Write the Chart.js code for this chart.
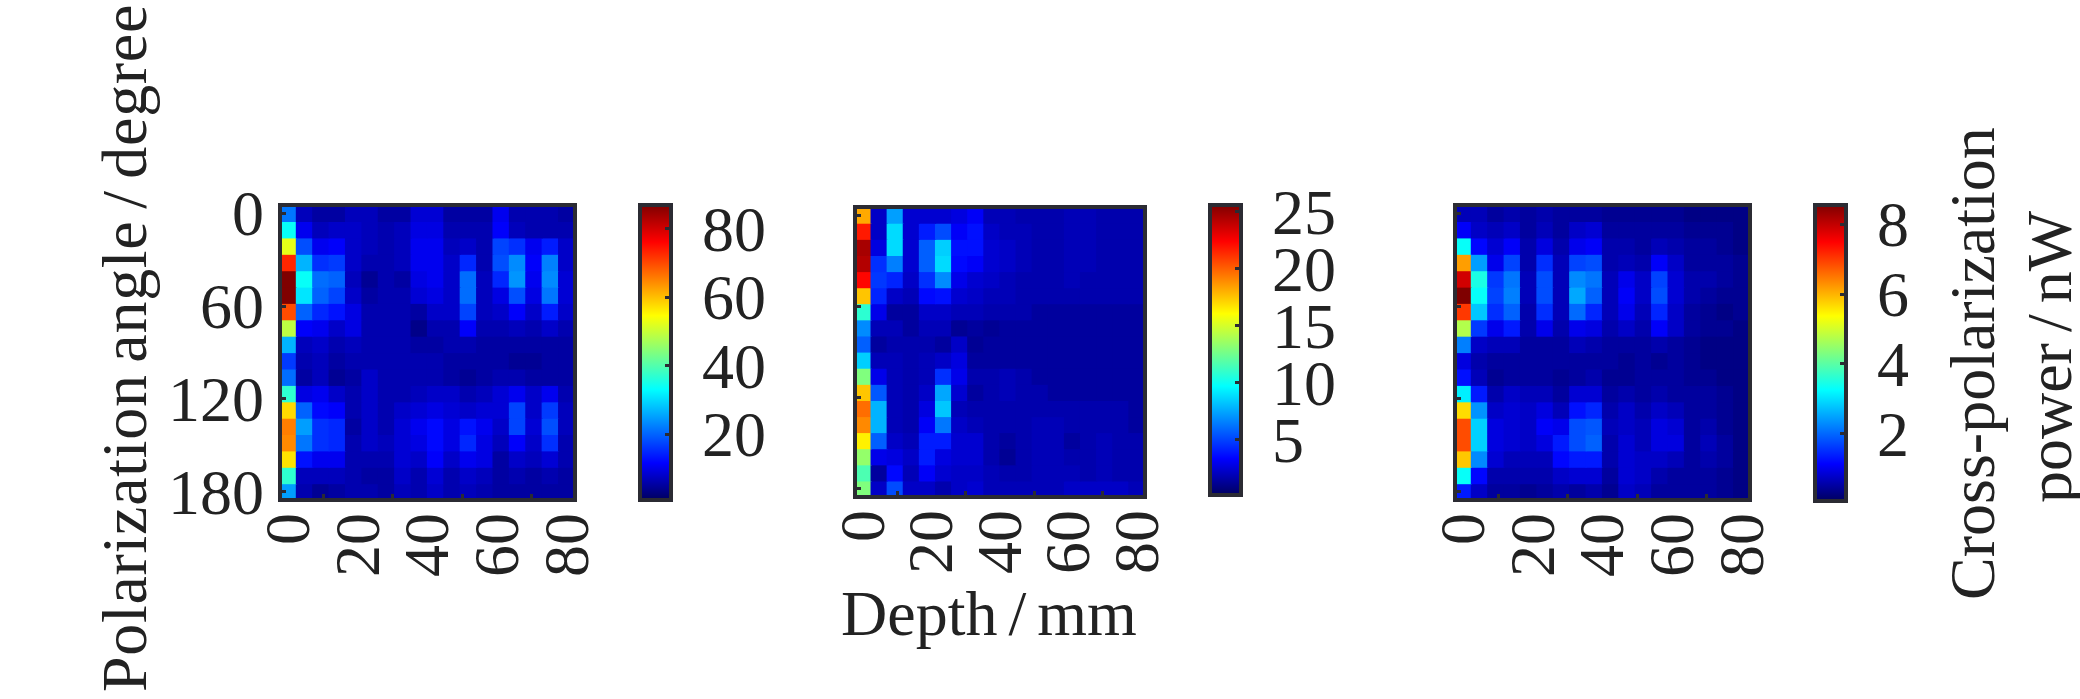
<!DOCTYPE html>
<html lang="en">
<head>
  <meta charset="UTF-8">
  <title>Cross-polarization power maps</title>
  <script src="https://cdn.jsdelivr.net/npm/chart.js"></script>
  <style>
    html, body {
      margin: 0;
      background: #fff;
      overflow: hidden;
    }
    body {
      width: 2080px;
      height: 699px;
      position: relative;
    }
    canvas {
      position: absolute;
    }
    .label {
      position: absolute;
      font-family: "Liberation Serif", serif;
      font-size: 64px;
      line-height: 1;
      color: #222;
      white-space: nowrap;
      word-spacing: -5px;
    }
    .rot {
      transform: rotate(-90deg);
      transform-origin: left top;
    }
  </style>
</head>
<body>
  <canvas id="map1"></canvas>
  <canvas id="bar1"></canvas>
  <canvas id="map2"></canvas>
  <canvas id="bar2"></canvas>
  <canvas id="map3"></canvas>
  <canvas id="bar3"></canvas>

  <div class="label rot" style="left:93px;top:692px;letter-spacing:.7px">Polarization angle / degree</div>
  <div class="label" style="left:841px;top:582px">Depth / mm</div>
  <div class="label rot" style="left:1941px;top:600px">Cross-polarization</div>
  <div class="label rot" style="left:2018px;top:503px">power / nW</div>

  <script>
    const depths = [0, 4.71, 9.41, 14.12, 18.82, 23.53, 28.24, 32.94, 37.65, 42.35, 47.06, 51.76, 56.47, 61.18, 65.88, 70.59, 75.29, 80];
    const angles = [0, 10.6, 21.2, 31.8, 42.4, 52.9, 63.5, 74.1, 84.7, 95.3, 105.9, 116.5, 127.1, 137.6, 148.2, 158.8, 169.4, 180];
    const depthTicks = [0, 20, 40, 60, 80];
    const angleTicks = [0, 60, 120, 180];

    const power1 = [
      [21.6,7,5.3,5.3,7,7,5.3,5.3,8.7,8.7,5.3,5.3,5.3,10.5,6.2,6.2,6.2,5.3],
      [33.7,10.5,7,7.9,7.9,7,6.2,7,9.6,9.6,6.2,6.2,6.2,11.3,7,6.2,6.2,6.2],
      [52.6,18.2,10.5,11.3,7.9,7,6.2,7,10.5,10.5,7,7.9,6.2,17.3,15.6,10.5,13.9,7.9],
      [73,26.8,15.6,16.5,7.9,6.2,6.2,7,10.5,10.5,7.9,14.8,6.2,18.2,23.4,11.3,22.5,7.9],
      [87,33.7,20.8,19.9,7,4.4,6.2,5.3,9.6,10.5,7.9,20.8,7,14.8,24.2,10.5,23.4,8.7],
      [87,31,19.9,17.3,7.9,5.3,6.2,6.2,8.7,9.6,7.9,20.8,7,9.6,18.2,9.6,21.6,8.7],
      [69.8,19.9,14.8,13,9.6,6.2,6.2,6.2,5.3,7.9,7.9,17.3,7,7.9,11.3,7.9,13.9,7.9],
      [49,11.3,10.5,7.9,9.6,6.2,6.2,6.2,3.6,6.2,6.2,11.3,6.2,6.2,7,6.2,7.9,6.2],
      [26.8,7,7.9,6.2,7,6.2,6.2,6.2,5.3,5.3,6.2,6.2,5.3,5.3,5.3,5.3,5.3,5.3],
      [16.5,6.2,7,5.3,6.2,6.2,6.2,6.2,6.2,6.2,5.3,5.3,5.3,5.3,4.4,4.4,5.3,5.3],
      [20.8,5.3,7,4.4,5.3,7.9,6.2,6.2,6.2,6.2,5.3,4.4,5.3,6.2,6.2,5.3,5.3,5.3],
      [37,9.6,10.5,7.9,6.2,7.9,6.2,6.2,7,7.9,7.9,6.2,7,8.7,10.5,7.9,10.5,6.2],
      [57.8,19.9,12.2,11.3,6.2,7.9,6.2,7.9,8.7,9.6,8.7,7.9,8.7,8.7,17.3,7.9,16.5,7],
      [65.5,25,15.6,14.8,5.3,7.9,6.2,8.7,10.5,12.2,9.6,13,10.5,7.9,17.3,8.7,18.2,7],
      [64.6,21.6,15.6,14.8,6.2,7.9,7,8.7,9.6,12.2,9.6,14.8,9.6,7,11.3,7.9,15.6,6.2],
      [57,13,10.5,10.5,6.2,6.2,6.2,8.7,7.9,11.3,7.9,10.5,9.6,5.3,7.9,7,8.7,6.2],
      [37,7,7,7,6.2,5.3,5.3,7.9,6.2,8.7,6.2,7.9,7,5.3,6.2,5.3,6.2,5.3],
      [25,6.2,4.4,5.3,6.2,6.2,5.3,7,6.2,7.9,6.2,7,6.2,5.3,5.3,5.3,5.3,5.3]
    ];

    const power2 = [
      [18.2,2.2,7.3,2.4,2.4,2.4,2.7,3.2,1.9,1.9,1.7,1.7,1.7,1.9,1.9,1.7,1.7,1.7],
      [21.8,2.2,8.8,2.4,4,5.2,3.2,3.7,2.2,1.9,1.9,1.7,1.7,1.9,1.9,1.7,1.7,1.7],
      [24.6,2.7,8.8,2.4,5.7,8.5,3.7,3.7,2.4,2.2,1.9,1.7,1.7,1.9,1.9,1.7,1.7,1.7],
      [24.3,4.5,6.5,2.4,5.7,8.8,3.5,3.2,2.4,2.2,1.9,1.7,1.7,1.9,1.9,1.7,1.7,1.7],
      [22.3,4.7,4.2,2.2,4.5,6.8,2.9,2.4,2.2,1.9,1.7,1.7,1.7,1.9,1.7,1.7,1.7,1.7],
      [17.5,4.2,2.2,1.9,3.5,3.7,2.4,2.2,1.9,1.9,1.7,1.7,1.7,1.7,1.7,1.7,1.7,1.7],
      [10.8,2.9,1.4,1.4,2.2,2.2,1.9,1.9,1.7,1.7,1.7,1.4,1.4,1.4,1.4,1.4,1.4,1.4],
      [6.8,1.9,1.9,1.4,1.9,1.9,1.2,1.4,1.2,1.4,1.4,1.4,1.4,1.4,1.4,1.4,1.4,1.4],
      [5.7,1.4,1.7,1.7,1.7,1.4,2.2,1.2,1.4,1.4,1.4,1.4,1.4,1.4,1.4,1.4,1.4,1.4],
      [8.5,1.9,1.9,1.7,1.9,2.2,2.7,1.4,1.4,1.4,1.4,1.4,1.4,1.4,1.4,1.4,1.4,1.4],
      [12.9,2.9,1.9,1.7,1.9,4.5,2.9,1.7,1.7,1.9,1.7,1.4,1.4,1.4,1.4,1.4,1.4,1.4],
      [17.5,5.5,1.9,1.7,2.2,7.5,2.4,1.4,1.7,1.9,1.7,1.7,1.4,1.4,1.4,1.4,1.4,1.4],
      [19.7,7.8,1.9,1.7,2.7,8.3,1.9,1.7,1.7,1.7,1.7,1.7,1.7,1.7,1.7,1.7,1.7,1.4],
      [19,7.8,1.9,1.7,3.2,6.3,2.2,1.9,1.7,1.7,1.7,1.9,1.9,1.7,1.7,1.7,1.7,1.4],
      [16.4,5.7,2.2,1.9,4,4,2.4,2.4,1.7,1.4,1.7,1.9,1.9,1.4,1.7,1.9,1.7,1.7],
      [13.4,2.9,2.7,2.2,4,2.7,2.4,2.4,1.7,1.2,1.7,1.9,1.9,1.7,1.7,1.9,1.7,1.7],
      [11.6,1.4,3.5,1.9,3.2,2.4,2.2,2.2,1.9,1.7,1.7,1.9,1.9,1.9,1.7,1.9,1.7,1.7],
      [12.9,2.2,5.2,2.2,2.2,1.7,2.2,2.4,1.9,1.9,1.9,1.9,1.9,2.2,2.2,2.2,2.2,1.9]
    ];

    const power3 = [
      [.66,.66,.49,.58,.49,.58,.49,.49,.49,.41,.41,.41,.41,.41,.32,.32,.32,.32],
      [1.09,.75,.66,.75,.49,.66,.49,.75,.83,.49,.49,.49,.49,.49,.41,.41,.41,.32],
      [3.3,1.17,.83,1.09,.58,.92,.58,1,1.09,.58,.58,.49,.66,.58,.49,.49,.41,.32],
      [6.18,2.45,1,1.68,.58,1.51,.66,1.68,1.77,.58,.66,.58,1.09,.75,.49,.49,.49,.41],
      [7.88,3.47,1.6,2.11,.66,1.77,.66,2.28,2.11,.66,1,.75,1.68,.83,.58,.58,.49,.41],
      [8.56,3.3,1.68,2.19,.66,1.77,.66,2.53,1.94,.66,1.09,.75,1.77,.83,.58,.49,.41,.41],
      [7.03,2.79,1.51,1.94,.58,1.51,.66,2.02,1.43,.66,1,.66,1.43,.75,.49,.41,.32,.41],
      [4.74,1.6,1,1.34,.58,1,.58,1,.92,.58,.75,.58,1.09,.75,.49,.41,.41,.32],
      [2.19,.75,.66,.66,.49,.49,.49,.66,.58,.49,.49,.49,.58,.49,.41,.32,.32,.32],
      [.92,.58,.49,.49,.49,.49,.49,.49,.49,.49,.41,.49,.41,.49,.41,.32,.32,.32],
      [1.26,.66,.41,.49,.49,.49,.41,.49,.58,.41,.41,.49,.49,.49,.41,.41,.32,.32],
      [3.13,1.34,.58,.75,.66,.66,.49,.83,.83,.49,.58,.49,.58,.49,.49,.49,.41,.32],
      [5.67,2.36,.75,.83,.75,.92,.66,1.26,1.43,.58,.75,.58,.75,.66,.49,.49,.41,.32],
      [6.86,2.87,.92,.83,.75,1.09,1,1.77,1.85,.66,.75,.66,.92,.83,.49,.58,.41,.32],
      [6.86,2.87,.92,.83,.75,.92,1.34,1.77,1.94,.58,.83,.66,.92,.92,.49,.66,.49,.32],
      [5.84,2.28,.83,.66,.66,.66,1.17,1.34,1.34,.58,.83,.75,.75,.66,.49,.58,.49,.32],
      [3.3,1.17,.58,.58,.58,.58,.75,.83,.83,.49,.83,.75,.58,.49,.49,.49,.41,.32],
      [1.34,.75,.49,.49,.41,.49,.58,.49,.58,.41,.75,.66,.49,.49,.49,.49,.41,.32]
    ];

    const barTicks1 = [20, 40, 60, 80];
    const barTicks2 = [5, 10, 15, 20, 25];
    const barTicks3 = [2, 4, 6, 8];
    const range1 = [0.8, 87];
    const range2 = [0.15, 25.6];
    const range3 = [0.07, 8.56];

    const jet = [[0,0,95],[0,0,255],[0,127,255],[0,255,255],[127,255,127],[255,255,0],[255,127,0],[255,0,0],[127,0,0]];
    const inkColor = '#222';
    const boxColor = '#2b2b33';
    const tickFont = { family: '"Liberation Serif", serif', size: 64 };

    function jetColor(f) {
      const t = Math.min(Math.max(f, 0), 1) * (jet.length - 1);
      const i = Math.min(Math.floor(t), jet.length - 2);
      const c = jet[i].map((a, k) => Math.round(a + (jet[i + 1][k] - a) * (t - i)));
      return `rgb(${c[0]},${c[1]},${c[2]})`;
    }

    // the box round each plot, drawn on top of the cells
    const boxPlugin = {
      id: 'box',
      afterDraw(chart) {
        const { ctx, chartArea: a } = chart;
        ctx.save();
        ctx.strokeStyle = boxColor;
        ctx.lineWidth = 4;
        ctx.strokeRect(a.left, a.top, a.right - a.left, a.bottom - a.top);
        ctx.restore();
      }
    };

    function tickGrid() {
      return { drawOnChartArea: false, drawTicks: true, tickLength: -6, tickWidth: 3, tickColor: boxColor, z: 1 };
    }

    function sizeCanvas(id, x, y, w, h) {
      const el = document.getElementById(id);
      el.width = w;
      el.height = h;
      el.style.left = x + 'px';
      el.style.top = y + 'px';
      el.style.width = w + 'px';
      el.style.height = h + 'px';
      return el;
    }

    function heatMap(id, area, matrix, range, showAngles) {
      const padLeft = 110, padBottom = 90, pad = 100;
      const el = sizeCanvas(id, area.left - padLeft, area.top - pad, padLeft + area.w + pad, pad + area.h + padBottom);
      const rowHalf = 5.3;
      const datasets = matrix.map((row, r) => ({
        data: row.map((v, c) => ({ x: depths[c], y: [angles[r] - rowHalf, angles[r] + rowHalf], v })),
        backgroundColor: ctx => jetColor((ctx.raw.v - range[0]) / (range[1] - range[0])),
        borderWidth: 0,
        inflateAmount: 0.6, // neighbouring cells overlap so no white seam shows
        grouped: false,
        barPercentage: 1,
        categoryPercentage: 1
      }));
      new Chart(el, {
        type: 'bar',
        data: { datasets },
        plugins: [boxPlugin],
        options: {
          responsive: false,
          animation: false,
          layout: { padding: { top: pad, right: pad } },
          plugins: { legend: { display: false }, tooltip: { enabled: false } },
          scales: {
            x: {
              type: 'linear',
              offset: false,
              min: -2.35,
              max: 82.35,
              afterBuildTicks: s => { s.ticks = depthTicks.map(value => ({ value })); },
              afterFit: s => { s.height = padBottom; },
              border: { display: false },
              grid: tickGrid(),
              ticks: { color: inkColor, font: tickFont, padding: 19, labelOffset: 4, minRotation: 90, maxRotation: 90, autoSkip: false }
            },
            y: {
              type: 'linear',
              reverse: true,
              min: -5.3,
              max: 185.3,
              afterBuildTicks: s => { s.ticks = angleTicks.map(value => ({ value })); },
              afterFit: s => { s.width = padLeft; },
              border: { display: false },
              grid: tickGrid(),
              ticks: { display: showAngles, color: inkColor, font: tickFont, padding: 22, labelOffset: 5, autoSkip: false }
            }
          }
        }
      });
    }

    function colorBar(id, area, range, barTicks) {
      const padRight = 110, pad = 100;
      const el = sizeCanvas(id, area.left - pad, area.top - pad, pad + area.w + padRight, pad + area.h + pad);
      new Chart(el, {
        type: 'bar',
        data: {
          labels: ['power'],
          datasets: [{
            data: [range],
            borderWidth: 0,
            barPercentage: 1,
            categoryPercentage: 1,
            backgroundColor: ctx => {
              const a = ctx.chart.chartArea;
              if (!a) return '#00f';
              const g = ctx.chart.ctx.createLinearGradient(0, a.bottom, 0, a.top);
              jet.forEach((c, i) => g.addColorStop(i / (jet.length - 1), jetColor(i / (jet.length - 1))));
              return g;
            }
          }]
        },
        plugins: [boxPlugin],
        options: {
          responsive: false,
          animation: false,
          layout: { padding: { top: pad, bottom: pad, left: pad } },
          plugins: { legend: { display: false }, tooltip: { enabled: false } },
          scales: {
            x: { display: false },
            y: {
              position: 'right',
              min: range[0],
              max: range[1],
              afterBuildTicks: s => { s.ticks = barTicks.map(value => ({ value })); },
              afterFit: s => { s.width = padRight; },
              border: { display: false },
              grid: tickGrid(),
              ticks: { color: inkColor, font: tickFont, padding: 37, labelOffset: 5, autoSkip: false }
            }
          }
        }
      });
    }

    heatMap('map1', { left: 280, top: 205, w: 295, h: 295 }, power1, range1, true);
    heatMap('map2', { left: 855, top: 207, w: 290, h: 290 }, power2, range2, false);
    heatMap('map3', { left: 1455, top: 205, w: 295, h: 295 }, power3, range3, false);

    colorBar('bar1', { left: 640, top: 205, w: 31, h: 295 }, range1, barTicks1);
    colorBar('bar2', { left: 1210, top: 205, w: 31, h: 290 }, range2, barTicks2);
    colorBar('bar3', { left: 1815, top: 205, w: 31, h: 296 }, range3, barTicks3);
  </script>
</body>
</html>
